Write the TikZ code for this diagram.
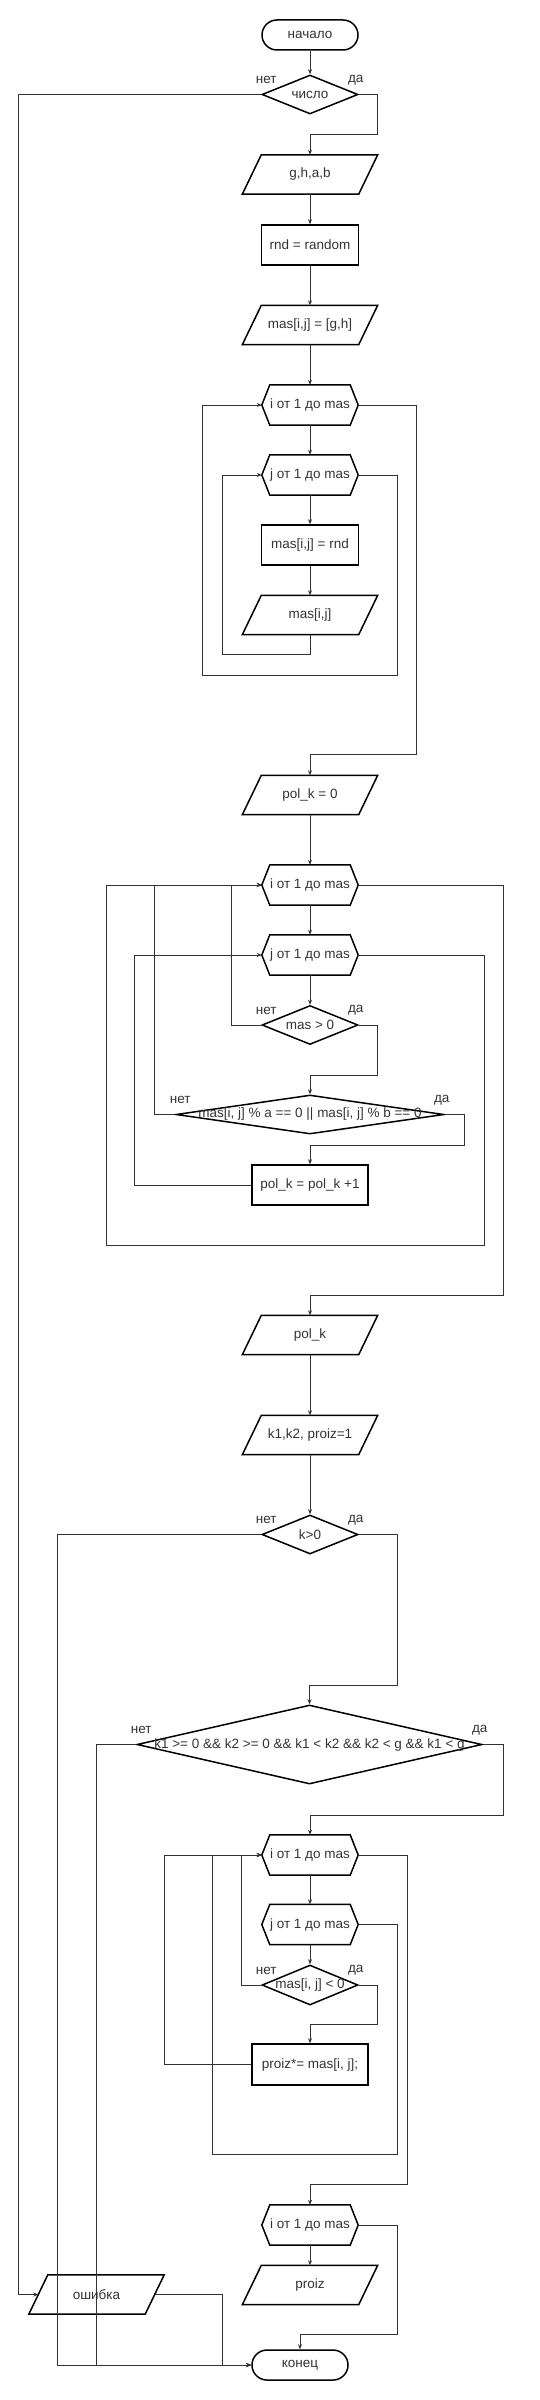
\documentclass[tikz,border=0pt]{standalone}
\usepackage{fontspec}
\setmainfont{Liberation Sans}
\usetikzlibrary{shapes.geometric,arrows.meta}
\definecolor{ink}{HTML}{333333}

\begin{document}
\begin{tikzpicture}[x=1pt,y=-1pt,
        font=\fontsize{13.5}{16}\selectfont, text=ink,
        procbox/.style = {draw=black,line width=1.5pt,minimum width=97pt,minimum height=40pt,inner sep=0pt},
        wideproc/.style = {procbox,minimum width=116pt},
        term/.style = {procbox,rounded corners=15pt,minimum width=96pt,minimum height=30pt},
        io/.style = {minimum width=135pt,minimum height=39pt,inner sep=0pt},
        loopbox/.style = {minimum width=96pt,minimum height=40pt,inner sep=0pt},
        cond/.style = {diamond,draw=black,line width=1.5pt,inner sep=0pt,minimum width=96pt,minimum height=39pt},
        lbl/.style = {inner sep=0pt},
        wire/.style = {draw=ink,line width=1pt},
        arrow/.style = {wire,-{Stealth[length=5pt,width=4pt]}}]
    \useasboundingbox (0,0) rectangle (540,2400);

    % input and filling
    \node[term] (start) at (310,35) {начало};
    \node[cond] (q1) at (310,94.5) {\makebox[0pt]{число}};
    \node[io] (in1) at (310,174.5) {g,h,a,b};
    \node[procbox] (p1) at (310,245) {rnd = random};
    \node[io] (in2) at (310,325) {mas[i,j] = [g,h]};
    \node[loopbox] (li1) at (310,405) {i от 1 до mas};
    \node[loopbox] (lj1) at (310,475) {j от 1 до mas};
    \node[procbox] (p2) at (310,545) {mas[i,j] = rnd};
    \node[io] (out1) at (310,615) {mas[i,j]};

    % counting
    \node[io] (in3) at (310,795) {pol\_k = 0};
    \node[loopbox] (li2) at (310,885) {i от 1 до mas};
    \node[loopbox] (lj2) at (310,955) {j от 1 до mas};
    \node[cond] (q2) at (310,1025) {\makebox[0pt]{mas > 0}};
    \node[cond,minimum width=268pt] (q3) at (310,1114.5)
        {\makebox[0pt]{mas[i, j] \% a == 0 || mas[i, j] \% b == 0}};
    \node[wideproc] (p3) at (310,1185) {pol\_k = pol\_k +1};
    \node[io] (out2) at (310,1335) {pol\_k};

    % product
    \node[io] (in4) at (310,1435) {k1,k2, proiz=1};
    \node[cond] (q4) at (310,1534.5) {\makebox[0pt]{k>0}};
    \node[cond,minimum width=345pt,minimum height=79pt] (q5) at (309.5,1744.5)
        {\makebox[0pt]{k1 >= 0 \&\& k2 >= 0 \&\& k1 < k2 \&\& k2 < g \&\& k1 < g}};
    \node[loopbox] (li3) at (310,1855) {i от 1 до mas};
    \node[loopbox] (lj3) at (310,1924.5) {j от 1 до mas};
    \node[cond,minimum height=40pt] (q6) at (310,1985) {\makebox[0pt]{mas[i, j] < 0}};
    \node[wideproc,minimum height=41pt] (p4) at (310,2064.5) {proiz*= mas[i, j];};
    \node[loopbox] (li4) at (310,2225) {i от 1 до mas};
    \node[io] (out3) at (310,2285) {proiz};
    \node[io] (err) at (96.5,2294.5) {ошибка};
    \node[term] (end) at (300,2365) {конец};

    % outlines
    \foreach \n in {in1,in2,out1,in3,out2,in4,out3,err}
        \draw[line width=1.5pt] ([xshift=19pt]\n.north west) -- (\n.north east)
            -- ([xshift=-19pt]\n.south east) -- (\n.south west) -- cycle;
    \foreach \n in {li1,lj1,li2,lj2,li3,lj3,li4}
        \draw[line width=1.5pt] ([xshift=8pt]\n.north west) -- ([xshift=-8pt]\n.north east)
            -- (\n.east) -- ([xshift=-8pt]\n.south east) -- ([xshift=8pt]\n.south west)
            -- (\n.west) -- cycle;

    % connectors
    \draw[arrow] (start) -- (q1);
    \draw[arrow] (q1.east) -| ++(19,40.5) -| (in1.north);
    \draw[arrow] (q1.west) -| ([xshift=-10pt]err.west) -- ([xshift=9.5pt]err.west);
    \draw[arrow] (in1) -- (p1);
    \draw[arrow] (p1) -- (in2);
    \draw[arrow] (in2) -- (li1);
    \draw[arrow] (li1) -- (lj1);
    \draw[arrow] (lj1) -- (p2);
    \draw[arrow] (p2) -- (out1);
    \draw[arrow] (out1.south) -- ++(0,20) -| ([xshift=-39pt]lj1.west) -- (lj1.west);
    \draw[arrow] (lj1.east) -| ++(39,200) -| ([xshift=-59pt]li1.west) -- (li1.west);
    \draw[arrow] (li1.east) -| ++(58,349) -| (in3.north);

    \draw[arrow] (in3) -- (li2);
    \draw[arrow] (li2) -- (lj2);
    \draw[arrow] (lj2) -- (q2);
    \draw[arrow] (q2.west) -| ([xshift=-30pt]li2.west) -- (li2.west);
    \draw[arrow] (q2.east) -| ++(19,50) -| (q3.north);
    \draw[arrow] (q3.west) -| ([xshift=-107pt]li2.west) -- (li2.west);
    \draw[arrow] (q3.east) -| ++(20,30.5) -| (p3.north);
    \draw[arrow] (p3.west) -| ([xshift=-127pt]lj2.west) -- (lj2.west);
    \draw[arrow] (lj2.east) -| ++(126,290) -| ([xshift=-155pt]li2.west) -- (li2.west);
    \draw[arrow] (li2.east) -| ++(145,410) -| (out2.north);

    \draw[arrow] (out2) -- (in4);
    \draw[arrow] (in4) -- (q4);
    \draw[arrow] (q4.west) -| ([xshift=-194pt]end.west) -- (end.west);
    \draw[arrow] (q4.east) -| ++(39,150.5) -| (q5.north);
    \draw[arrow] (q5.west) -| ([xshift=-155pt]end.west) -- (end.west);
    \draw[arrow] (q5.east) -| ++(21,70.5) -| (li3.north);
    \draw[arrow] (li3) -- (lj3);
    \draw[arrow] (lj3) -- (q6);
    \draw[arrow] (q6.west) -| ([xshift=-20pt]li3.west) -- (li3.west);
    \draw[arrow] (q6.east) -| ++(19,39) -| (p4.north);
    \draw[arrow] (p4.west) -| ([xshift=-97pt]li3.west) -- (li3.west);
    \draw[arrow] (lj3.east) -| ++(39,229.5) -| ([xshift=-49pt]li3.west) -- (li3.west);
    \draw[arrow] (li3.east) -| ++(49,329) -| (li4.north);
    \draw[arrow] (li4) -- (out3);
    \draw[arrow] (li4.east) -| ++(39,109) -| (end.north);
    \draw[arrow] ([xshift=-9.5pt]err.east) -| ([xshift=-29pt]end.west) -- (end.west);

    % branch labels
    \foreach \q in {q1,q2,q3,q4,q5,q6} {
        \node[lbl] at ([xshift=5pt,yshift=14.5pt]\q.west) {нет};
        \node[lbl] at ([xshift=-3pt,yshift=14.5pt]\q.east) {да};
    }
\end{tikzpicture}
\end{document}
